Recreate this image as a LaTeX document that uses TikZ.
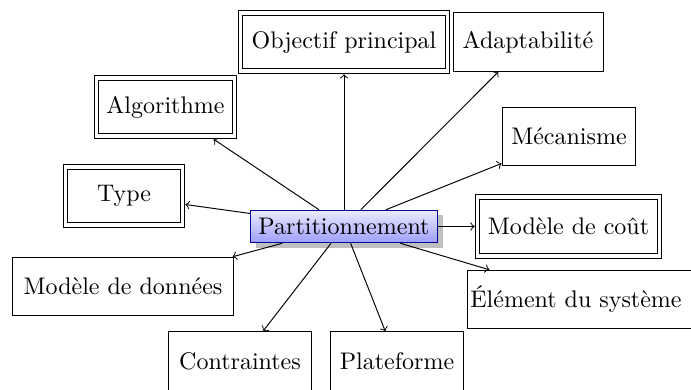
\documentclass[tikz,border=0pt]{standalone}
\usetikzlibrary{shadows}
\begin{document}
\begin{tikzpicture}[x=0.41667pt,y=-0.41667pt,
  box/.style={draw, rectangle, inner xsep=2pt, minimum height=24.4pt},
  dbox/.style={box, double, double distance=1.6pt, outer sep=1.2pt},
  hub/.style={draw=blue!60!black, top color=blue!8, bottom color=blue!38,
              drop shadow, inner sep=3.33pt},
  link/.style={->, >=to}]
\useasboundingbox (0,0) rectangle (691,389);

% central concept
\node[hub] (part) at (344,226.5) {Partitionnement};

% surrounding aspects
\node[dbox, minimum width=86.25pt] (obj)   at (344,42)    {Objectif principal};
\node[box,  minimum width=62.5pt]  (adapt) at (528,42)    {Adaptabilité};
\node[dbox, minimum width=57.5pt]  (algo)  at (165.5,107) {Algorithme};
\node[box,  minimum width=55.8pt]  (meca)  at (569,136.5) {Mécanisme};
\node[dbox, minimum width=48.75pt] (type)  at (124,196)   {Type};
\node[dbox, minimum width=75.8pt]  (cout)  at (568.5,226.5) {Modèle de coût};
\node[box,  minimum width=91.7pt]  (donn)  at (123,286.5) {Modèle de données};
\node[box,  anchor=west, text width=99pt, align=left, inner xsep=1.2pt]
                                   (elem)  at (467,299.5) {Élément du système};
\node[box,  minimum width=59.2pt]  (contr) at (240,361)   {Contraintes};
\node[box,  minimum width=55.8pt]  (plat)  at (397,361)   {Plateforme};

% links from the centre
\foreach \t in {obj,adapt,algo,meca,type,cout,donn,elem,contr,plat}
  \draw[link] (part) -- (\t);
\end{tikzpicture}
\end{document}
